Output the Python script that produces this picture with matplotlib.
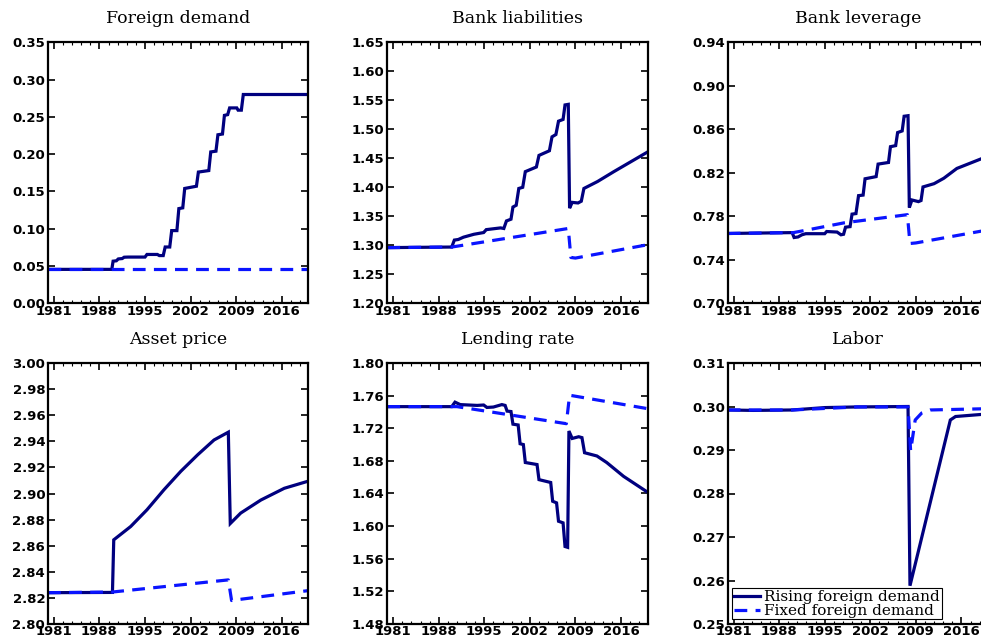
import numpy as np
import matplotlib
matplotlib.use("Agg")
import matplotlib.pyplot as plt
from matplotlib.ticker import MultipleLocator, FormatStrFormatter

# Foreign demand
fd_x = [1980.1, 1989.9, 1990.1, 1990.6, 1990.9, 1991.5, 1991.8, 1992.4, 1995.0, 1995.3, 1996.9, 1997.2,
        1997.8, 1998.1, 1998.8, 1999.1, 1999.9, 2000.2, 2000.8, 2001.1, 2002.9, 2003.2, 2004.8, 2005.1,
        2005.9, 2006.2, 2006.9, 2007.2, 2007.7, 2008.0, 2009.1, 2009.3, 2009.8, 2010.1, 2020.1]
fd_y = [0.0455, 0.0455, 0.0565, 0.057, 0.0595, 0.060, 0.0618, 0.062, 0.062, 0.0655, 0.0655, 0.064,
        0.064, 0.0755, 0.0755, 0.0975, 0.0975, 0.127, 0.128, 0.154, 0.157, 0.176, 0.178, 0.203,
        0.204, 0.226, 0.227, 0.252, 0.253, 0.262, 0.262, 0.259, 0.259, 0.280, 0.280]
fd_fx = [1980.1, 2020.1]
fd_fy = [0.0455, 0.0455]

# Bank liabilities
bl_x = [1980.1, 1990.0, 1990.4, 1991.0, 1991.8, 1993.4, 1994.9, 1995.3, 1997.5, 1998.0, 1998.4, 1999.1,
        1999.4, 1999.9, 2000.3, 2000.9, 2001.3, 2003.0, 2003.4, 2005.0, 2005.4, 2006.0, 2006.4, 2007.1,
        2007.4, 2007.9, 2008.1, 2008.5, 2009.4, 2009.9, 2010.3, 2012.4, 2014.9, 2020.1]
bl_y = [1.296, 1.297, 1.309, 1.310, 1.314, 1.319, 1.322, 1.327, 1.330, 1.329, 1.342, 1.345,
        1.366, 1.369, 1.398, 1.400, 1.427, 1.435, 1.455, 1.463, 1.487, 1.491, 1.514, 1.517,
        1.542, 1.543, 1.364, 1.374, 1.373, 1.376, 1.398, 1.410, 1.427, 1.461]
bl_fx = [1980.1, 1990.0, 2007.9, 2008.3, 2009.0, 2020.1]
bl_fy = [1.296, 1.297, 1.329, 1.279, 1.278, 1.301]

# Bank leverage
lv_x = [1980.1, 1990.0, 1990.3, 1990.9, 1991.5, 1992.1, 1995.0, 1995.3, 1996.9, 1997.5, 1997.9, 1998.2,
        1998.9, 1999.2, 1999.8, 2000.2, 2000.9, 2001.2, 2002.9, 2003.2, 2004.8, 2005.1, 2005.9, 2006.2,
        2006.9, 2007.2, 2007.8, 2008.0, 2008.4, 2009.4, 2009.8, 2010.1, 2011.8, 2013.3, 2015.3, 2019.1, 2020.1]
lv_y = [0.7642, 0.7650, 0.7605, 0.7610, 0.7630, 0.7640, 0.7640, 0.7660, 0.7655, 0.7630, 0.7635, 0.7700,
        0.7705, 0.7820, 0.7825, 0.7990, 0.7995, 0.8145, 0.8165, 0.8280, 0.8295, 0.8440, 0.8450, 0.8570,
        0.8585, 0.8720, 0.8725, 0.7880, 0.7950, 0.7935, 0.7945, 0.8070, 0.8100, 0.8150, 0.8240, 0.8330, 0.8350]
lv_fx = [1980.1, 1990.2, 1998.0, 2007.7, 2008.1, 2009.0, 2020.1]
lv_fy = [0.7642, 0.7650, 0.7740, 0.7815, 0.7550, 0.7555, 0.7675]

# Asset price
ap_x = [1980.1, 1990.0, 1990.2, 1992.8, 1995.3, 1997.9, 2000.5, 2003.1, 2005.6, 2007.8, 2008.1,
        2009.7, 2012.8, 2016.4, 2020.1]
ap_y = [2.8240, 2.8242, 2.8645, 2.8747, 2.8875, 2.9028, 2.9170, 2.9297, 2.9410, 2.9470, 2.8770,
        2.8850, 2.8950, 2.9040, 2.9095]
ap_fx = [1980.1, 1990.0, 2007.8, 2008.3, 2009.0, 2020.1]
ap_fy = [2.8240, 2.8245, 2.8338, 2.8180, 2.8185, 2.8256]

# Lending rate
lr_x = [1980.1, 1990.0, 1990.5, 1991.3, 1993.9, 1994.9, 1995.4, 1996.4, 1997.7, 1998.2, 1998.5, 1999.1,
        1999.4, 2000.2, 2000.5, 2001.0, 2001.3, 2003.1, 2003.4, 2005.2, 2005.5, 2006.1, 2006.4, 2007.1,
        2007.4, 2007.8, 2008.0, 2008.5, 2009.5, 2010.0, 2010.4, 2012.3, 2013.8, 2016.4, 2020.1]
lr_y = [1.7465, 1.7465, 1.7520, 1.7490, 1.7480, 1.7485, 1.7455, 1.7460, 1.7490, 1.7480, 1.7410, 1.7405,
        1.7250, 1.7240, 1.7010, 1.7000, 1.6780, 1.6755, 1.6570, 1.6535, 1.6305, 1.6285, 1.6060, 1.6040,
        1.5750, 1.5740, 1.7166, 1.7075, 1.7096, 1.7085, 1.6900, 1.6860, 1.6780, 1.6610, 1.6415]
lr_fx = [1980.1, 1990.8, 2007.6, 2008.1, 2020.1]
lr_fy = [1.7465, 1.7465, 1.7256, 1.7605, 1.7440]

# Labor
lb_x = [1980.1, 1984.0, 1990.0, 1995.0, 2000.0, 2007.8, 2008.1, 2014.3, 2015.1, 2020.1]
lb_y = [0.2992, 0.2991, 0.2992, 0.29975, 0.2999, 0.3000, 0.2588, 0.2969, 0.2977, 0.2983]
lb_fx = [1980.1, 1990.0, 2000.0, 2007.8, 2008.2, 2008.9, 2009.9, 2011.2, 2020.1]
lb_fy = [0.2992, 0.2992, 0.2999, 0.2999, 0.2898, 0.2969, 0.2985, 0.2992, 0.2995]

titles = ["Foreign demand", "Bank liabilities", "Bank leverage",
          "Asset price", "Lending rate", "Labor"]
ylims = [(0.0, 0.35), (1.20, 1.65), (0.70, 0.94), (2.80, 3.00), (1.48, 1.80), (0.25, 0.31)]
ysteps = [0.05, 0.05, 0.04, 0.02, 0.04, 0.01]
year_ticks = [1981, 1988, 1995, 2002, 2009, 2016]
legend_labels = ["Rising foreign demand", "Fixed foreign demand"]

series = [(fd_x, fd_y, fd_fx, fd_fy), (bl_x, bl_y, bl_fx, bl_fy), (lv_x, lv_y, lv_fx, lv_fy),
          (ap_x, ap_y, ap_fx, ap_fy), (lr_x, lr_y, lr_fx, lr_fy), (lb_x, lb_y, lb_fx, lb_fy)]

navy = "#00007f"
blue = "#0a14ff"

fig = plt.figure(figsize=(9.81, 6.39), dpi=100)
lefts = [48 / 981, 387.3 / 981, 727.7 / 981]
bottoms = [1 - 303.3 / 639, 1 - 624 / 639]
w = 260.4 / 981
h = 261 / 639

for i in range(6):
    r, c = divmod(i, 3)
    ax = fig.add_axes([lefts[c], bottoms[r], w, h])
    sx, sy, fx, fy = series[i]
    l1, = ax.plot(sx, sy, color=navy, lw=2.3, solid_joinstyle="miter")
    l2, = ax.plot(fx, fy, color=blue, lw=2.3, dashes=(4, 2.6))
    lo, hi = ylims[i]
    ax.set_xlim(1980.1, 2020.1)
    ax.set_ylim(lo, hi)
    ax.set_xticks(year_ticks)
    ax.xaxis.set_minor_locator(MultipleLocator(1.4))
    ax.set_yticks(np.arange(lo, hi + ysteps[i] / 2, ysteps[i]))
    ax.yaxis.set_major_formatter(FormatStrFormatter("%.2f"))
    ax.tick_params(direction="in", top=True, right=True, length=5, width=1.2,
                   labelsize=9.5, pad=2)
    ax.tick_params(axis="x", which="minor", direction="in", top=True, bottom=True,
                   length=2.5, width=0.8)
    ax.tick_params(axis="x", pad=1)
    for lab in ax.get_xticklabels() + ax.get_yticklabels():
        lab.set_fontweight("bold")
    for sp in ax.spines.values():
        sp.set_linewidth(1.6)
    ax.set_title(titles[i], fontsize=12.5, family="DejaVu Serif", pad=14)
    if i == 5:
        leg = ax.legend([l1, l2], legend_labels, loc="lower left", fancybox=False,
                        edgecolor="black", framealpha=1, prop={"family": "DejaVu Serif", "size": 11},
                        handlelength=1.7, handletextpad=0.3, borderpad=0.1, labelspacing=0.0,
                        borderaxespad=0.3)
        leg.get_frame().set_linewidth(0.8)

fig.savefig("out.png", dpi=100)
